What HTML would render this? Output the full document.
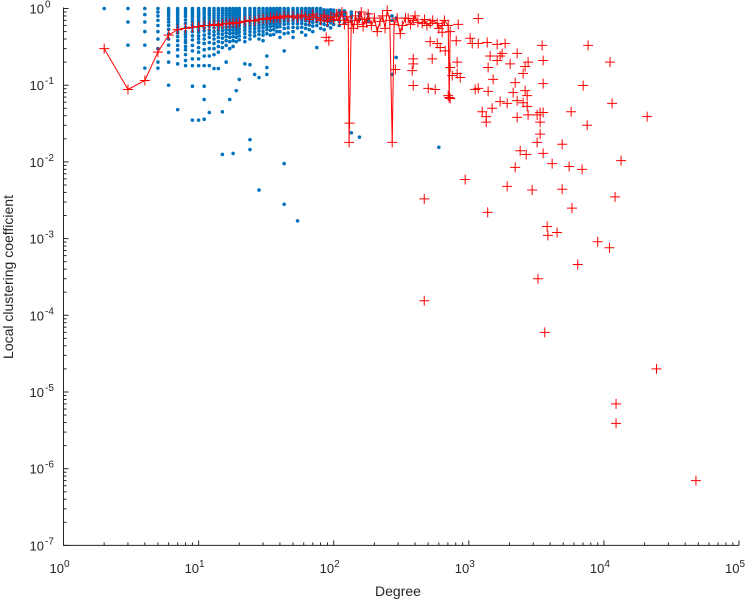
<!DOCTYPE html>
<html><head><meta charset="utf-8"><style>
html,body{margin:0;padding:0;background:#fff;}
svg{display:block;font-family:"Liberation Sans",sans-serif;}
</style></head><body>
<svg id="chart" width="753" height="600" viewBox="0 0 753 600" xmlns="http://www.w3.org/2000/svg">
<g id="plot"></g>
<g id="axes"></g>
<text x="398" y="596" font-size="14" fill="#262626" text-anchor="middle">Degree</text>
<text x="13" y="277" font-size="14" fill="#262626" text-anchor="middle" transform="rotate(-90 13 277)">Local clustering coefficient</text>
</svg>
<script>
const xTickExps = [0,1,2,3,4,5];
const yTickExps = [0,-1,-2,-3,-4,-5,-6,-7];
const blueDeg = [2,3,4,5,6,7,8,9,10,11,12,13,14,15,16,17,18,19,20,22,24,26,28,30,32,34,36,38,40,43,46,50,54,58,62,66,70,75,80,85,90,95,100,110,120,135,155,180,270,290,600];
const blueVals = [
[1],
[1,.667,.333],
[1,.833,.667,.5,.333,.167],
[1,.9,.8,.7,.6,.5,.4,.3,.2,.167],
[1,.933,.867,.8,.733,.667,.6,.533,.467,.4,.333,.267,.2,.1],
[1,.95,.9,.857,.81,.76,.71,.67,.62,.57,.52,.48,.43,.38,.33,.29,.24,.19,.048],
[1,.93,.86,.79,.71,.64,.57,.5,.46,.43,.39,.36,.32,.29,.25,.21,.18],
[1,.94,.89,.83,.78,.72,.67,.61,.56,.5,.44,.39,.33,.28,.22,.18,.097,.035],
[1,.93,.89,.84,.8,.76,.71,.67,.62,.58,.53,.49,.44,.4,.36,.31,.27,.22,.18,.035],
[1,.95,.89,.84,.78,.73,.67,.62,.56,.51,.45,.4,.35,.29,.24,.18,.097,.065,.036],
[1,.94,.88,.82,.76,.7,.64,.58,.52,.47,.42,.36,.3,.24,.18,.044],
[1,.93,.86,.8,.74,.68,.62,.56,.5,.45,.4,.35,.3,.25,.165],
[1,.94,.87,.81,.75,.69,.63,.57,.52,.47,.42,.37,.32,.27,.165],
[1,.93,.87,.8,.74,.68,.62,.56,.51,.46,.41,.36,.31,.045,.0125],
[1,.94,.88,.82,.76,.7,.64,.58,.53,.48,.43,.38,.33,.2],
[1,.93,.86,.8,.74,.68,.62,.57,.52,.47,.42,.37,.3,.065],
[1,.94,.88,.82,.76,.7,.64,.58,.53,.48,.43,.38,.32,.0129],
[1,.93,.87,.81,.75,.69,.63,.57,.52,.47,.42,.37,.085],
[1,.94,.88,.82,.76,.7,.64,.59,.54,.49,.44,.39,.119],
[1,.93,.86,.8,.74,.68,.62,.57,.52,.47,.42,.37,.19],
[1,.94,.88,.82,.76,.7,.65,.6,.55,.5,.45,.4,.185,.0195,.0145],
[1,.93,.87,.81,.75,.69,.64,.59,.54,.49,.44,.138],
[1,.94,.88,.82,.76,.71,.66,.61,.56,.51,.46,.4,.126,.0043],
[1,.93,.87,.81,.76,.71,.66,.61,.56,.5,.45,.38],
[1,.94,.88,.83,.78,.73,.68,.63,.58,.53,.47,.24,.17,.138],
[1,.93,.88,.83,.78,.73,.68,.63,.58,.52,.45],
[1,.94,.89,.84,.79,.74,.69,.64,.59,.53,.46],
[1,.93,.88,.83,.78,.73,.68,.63,.57,.5],
[1,.94,.89,.84,.79,.74,.69,.64,.58,.5,.42],
[1,.93,.88,.83,.78,.73,.68,.62,.55,.47,.28,.0095,.0028],
[1,.94,.89,.84,.79,.74,.69,.63,.56,.48],
[1,.94,.89,.84,.8,.75,.7,.64,.57,.5,.42],
[1,.93,.88,.84,.79,.74,.69,.63,.56,.0017],
[1,.94,.9,.85,.8,.75,.7,.64,.57,.49],
[1,.93,.89,.85,.8,.75,.69,.62,.55,.45],
[1,.94,.9,.85,.8,.74,.68,.61,.53],
[1,.93,.88,.83,.78,.72,.66,.59,.5],
[1,.94,.9,.85,.79,.73,.67,.6,.31],
[1,.93,.88,.83,.77,.71,.64,.55],
[.96,.91,.86,.81,.75,.69,.62,.53],
[.95,.9,.85,.8,.74,.68,.6],
[.96,.9,.84,.78,.72,.65,.56],
[.95,.89,.83,.77,.7,.62],
[.94,.88,.82,.75,.68,.6],
[.93,.86,.8,.72,.64],
[.9,.83,.76,.68,.024],
[.88,.8,.72,.021],
[.85,.76,.68],
[.8,.7,.138],
[.75,.23],
[.0155]
];
const redLineK = [2,3,4,5,6,7,8,9,10,11,12,13,14,15,16,17,18,19,20,22,24,26,28,30,32,34,36,38,40,43,46,50,54,58,62,66,70,75,80,85,90,95,100,105,110,115,120,125,128,130,131,135,140,145,150,155,160,165,170,175,180,190,200,210,220,230,240,249,260,271,280,295,311,322,340,356,370,388,400,420,452,470,490,518,540,584,600,635,660,704,716,728];
const redLineC = [0.30,0.088,0.115,0.27,0.45,0.53,0.55,0.57,0.58,0.6,0.6,0.62,0.6,0.63,0.64,0.63,0.66,0.64,0.66,0.68,0.7,0.69,0.72,0.74,0.72,0.76,0.74,0.78,0.75,0.8,0.77,0.8,0.75,0.82,0.78,0.72,0.84,0.76,0.7,0.82,0.68,0.78,0.72,0.85,0.7,0.9,0.62,0.78,0.66,0.018,0.032,0.7,0.55,0.8,0.62,0.75,0.9,0.58,0.72,0.65,0.85,0.6,0.75,0.5,0.68,0.8,0.55,0.94,0.7,0.018,0.62,0.75,0.47,0.6,0.75,0.74,0.62,0.7,0.8,0.66,0.64,0.72,0.6,0.64,0.7,0.64,0.55,0.6,0.7,0.6,0.069,0.5];
const redK = [88,92,286,381,388,388,388,501,518,536,564,584,614,635,669,704,728,728,754,807,820,820,835,864,468,468,940,1024,1060,1115,1175,1175,1175,1257,1346,1346,1368,1380,1390,1390,1438,1489,1514,1622,1622,1706,1706,1766,1858,1923,1923,2023,2130,2205,2205,2280,2280,2280,2400,2525,2525,2612,2612,2660,2704,2704,2748,2748,2944,3205,3205,3250,3373,3373,3373,3490,3550,3550,3550,3550,3650,3800,3850,4140,4500,4910,4910,5530,5720,5800,6400,6900,7020,7520,7640,9000,11000,11100,11500,12100,12300,12300,13400,20900,24500,48000];
const redC = [0.42,0.38,0.16,0.155,0.22,0.19,0.099,0.091,0.37,0.22,0.088,0.35,0.31,0.49,0.28,0.073,0.17,0.067,0.134,0.38,0.20,0.142,0.62,0.126,0.0033,0.000155,0.0059,0.41,0.35,0.088,0.35,0.74,0.091,0.045,0.039,0.033,0.36,0.0022,0.17,0.083,0.24,0.050,0.119,0.34,0.21,0.24,0.061,0.26,0.35,0.058,0.0048,0.19,0.080,0.108,0.0085,0.26,0.063,0.038,0.014,0.142,0.059,0.175,0.085,0.0125,0.073,0.053,0.20,0.041,0.0043,0.041,0.018,0.0003,0.044,0.033,0.023,0.33,0.21,0.105,0.044,0.0129,0.00006,0.00144,0.0011,0.0095,0.0012,0.017,0.0044,0.0087,0.045,0.0025,0.00046,0.008,0.099,0.030,0.33,0.00091,0.00076,0.20,0.058,0.0035,0.000007,0.0000039,0.0104,0.039,0.00002,0.0000007];

const X0 = 63.5, XD = 135.1, Y0 = 8.5, YD = 76.7;
function sx(k){ return X0 + Math.log10(k) * XD; }
function sy(c){ return Y0 - Math.log10(c) * YD; }
const NS = 'http://www.w3.org/2000/svg';
function mk(tag, attrs, parent){
  const e = document.createElementNS(NS, tag);
  for (const a in attrs) e.setAttribute(a, attrs[a]);
  parent.appendChild(e);
  return e;
}
const plot = document.getElementById('plot');
const axes = document.getElementById('axes');

blueDeg.forEach((k, i) => {
  blueVals[i].forEach(c => {
    const d = mk('circle', {cx: sx(k), cy: sy(c), r: 1.8, fill: '#0072BD'}, plot);
    
    
  });
});

let pts = redLineK.map((k, i) => sx(k).toFixed(1) + ',' + sy(redLineC[i]).toFixed(1)).join(' ');
const pl = mk('polyline', {points: pts, fill: 'none', stroke: '#ff0000', 'stroke-width': 1}, plot);



function plus(k, c){
  const x = sx(k), y = sy(c);
  const p = mk('path', {d: `M${x-5},${y}H${x+5}M${x},${y-5}V${y+5}`, stroke: '#ff0000', 'stroke-width': 1, fill: 'none'}, plot);
  
  
}
redLineK.forEach((k, i) => plus(k, redLineC[i]));
redK.forEach((k, i) => plus(k, redC[i]));

const ax = mk('path', {d: `M${X0},${Y0-1}V${sy(1e-7)}H${sx(1e5)}`, stroke: '#262626', 'stroke-width': 1, fill: 'none'}, axes);


const yb = sy(1e-7);
xTickExps.forEach(e => {
  const x = sx(Math.pow(10, e));
  mk('line', {x1: x, x2: x, y1: yb, y2: yb - 5, stroke: '#262626'}, axes);
  if (e < 5) for (let m = 2; m < 10; m++) {
    const xm = sx(m * Math.pow(10, e));
    mk('line', {x1: xm, x2: xm, y1: yb, y2: yb - 3, stroke: '#262626'}, axes);
  }
  const t = mk('text', {x: x - 4, y: 573, 'font-size': 13, fill: '#262626', 'text-anchor': 'middle'}, axes);
  
  
  t.textContent = '10';
  const s = mk('tspan', {dy: -6, 'font-size': 10}, t);
  s.textContent = String(e);
});
yTickExps.forEach(e => {
  const y = sy(Math.pow(10, e));
  mk('line', {x1: X0, x2: X0 + 5, y1: y, y2: y, stroke: '#262626'}, axes);
  if (e > -7) for (let m = 2; m < 10; m++) {
    const ym = sy(m * Math.pow(10, e - 1));
    mk('line', {x1: X0, x2: X0 + 3, y1: ym, y2: ym, stroke: '#262626'}, axes);
  }
  const t = mk('text', {x: 44, y: y + 5, 'font-size': 13, fill: '#262626', 'text-anchor': 'end'}, axes);
  
  
  t.textContent = '10';
  const s = mk('tspan', {x: 45, dy: -6, 'font-size': 10, 'text-anchor': 'start'}, t);
  s.textContent = String(e);
});
</script>
</body></html>
